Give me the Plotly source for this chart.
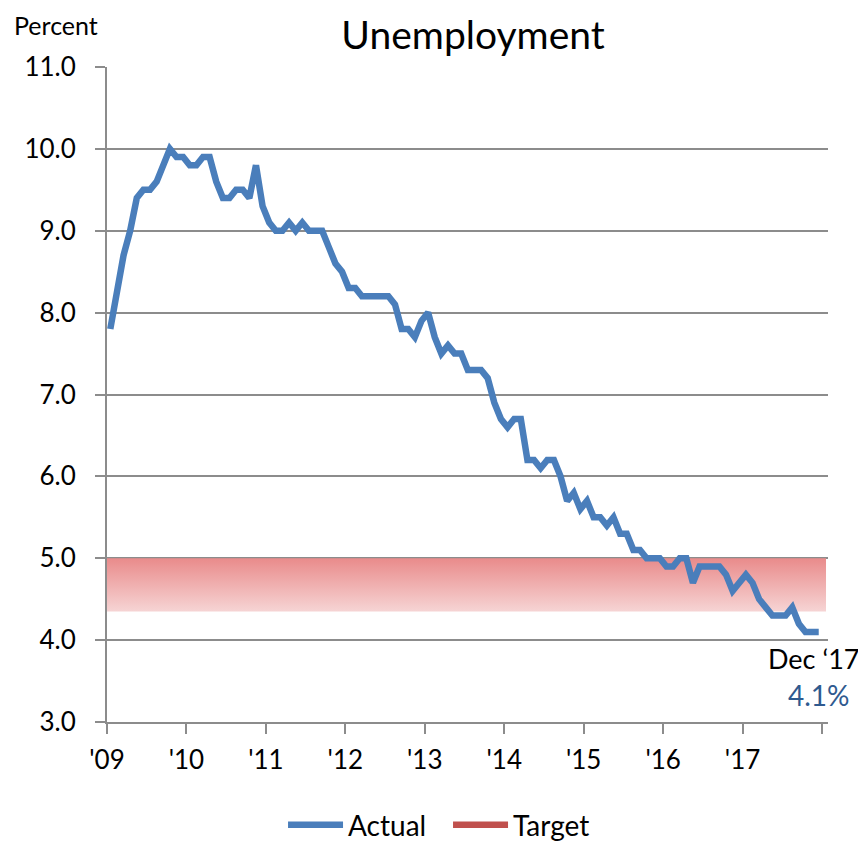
import plotly.graph_objects as go

years = ["'09", "'10", "'11", "'12", "'13", "'14", "'15", "'16", "'17", ""]
actual = [
    7.8, 8.3, 8.7, 9.0, 9.4, 9.5, 9.5, 9.6, 9.8, 10.0, 9.9, 9.9,
    9.8, 9.8, 9.9, 9.9, 9.6, 9.4, 9.4, 9.5, 9.5, 9.4, 9.8, 9.3,
    9.1, 9.0, 9.0, 9.1, 9.0, 9.1, 9.0, 9.0, 9.0, 8.8, 8.6, 8.5,
    8.3, 8.3, 8.2, 8.2, 8.2, 8.2, 8.2, 8.1, 7.8, 7.8, 7.7, 7.9,
    8.0, 7.7, 7.5, 7.6, 7.5, 7.5, 7.3, 7.3, 7.3, 7.2, 6.9, 6.7,
    6.6, 6.7, 6.7, 6.2, 6.2, 6.1, 6.2, 6.2, 6.0, 5.7, 5.8, 5.6,
    5.7, 5.5, 5.5, 5.4, 5.5, 5.3, 5.3, 5.1, 5.1, 5.0, 5.0, 5.0,
    4.9, 4.9, 5.0, 5.0, 4.7, 4.9, 4.9, 4.9, 4.9, 4.8, 4.6, 4.7,
    4.8, 4.7, 4.5, 4.4, 4.3, 4.3, 4.3, 4.4, 4.2, 4.1, 4.1, 4.1,
]
target_low = 4.35
target_high = 5.0
last_label = "Dec ‘17"

months = list(range(len(actual)))
tick_pos = [12 * k - 0.5 for k in range(len(years))]

FONT = "Lato, Carlito, Calibri, sans-serif"
BLUE = "#4A7EBB"
RED = "#C0504D"
GRID = "#8C8C8C"

fig = go.Figure()

# target band with vertical gradient
band_x = [-0.7, 108.1, 108.1, -0.7, -0.7]
band_y = [target_low, target_low, target_high, target_high, target_low]
fig.add_trace(go.Scatter(
    x=band_x, y=band_y, mode="lines", line=dict(width=0),
    fill="toself",
    fillgradient=dict(type="vertical",
                      colorscale=[[0, "#F6D4D4"], [1, "#E98B8B"]]),
    showlegend=False, hoverinfo="skip",
))

fig.add_trace(go.Scatter(
    x=months, y=actual, mode="lines", name="Actual",
    line=dict(color=BLUE, width=6.5),
))
fig.add_trace(go.Scatter(
    x=[None], y=[None], mode="lines", name="Target",
    line=dict(color=RED, width=6.5),
))

fig.update_layout(
    width=858, height=833,
    margin=dict(l=99, r=38, t=59, b=119),
    paper_bgcolor="white", plot_bgcolor="white",
    font=dict(family=FONT, size=26, color="black"),
    title=dict(text="Unemployment", x=0.542, xanchor="center",
               y=0.9676, yanchor="middle",
               font=dict(size=39, family=FONT, color="black")),
    legend=dict(orientation="h", xref="paper", x=0.473, xanchor="center",
                yref="container", y=0.019, yanchor="middle",
                font=dict(size=28), itemwidth=55,
                entrywidth=95, entrywidthmode="pixels",
                traceorder="normal"),
    showlegend=True,
)

fig.update_xaxes(
    range=[-0.5, 108.4], tickmode="array", tickvals=tick_pos, ticktext=years,
    showgrid=False, zeroline=False, showline=True, linecolor=GRID, linewidth=2,
    ticks="outside", ticklen=10, tickcolor=GRID, tickwidth=2,
    tickfont=dict(size=26), ticklabelstandoff=4,
)
fig.update_yaxes(
    range=[3.0, 11.0], tickmode="array", tickvals=[3, 4, 5, 6, 7, 8, 9, 10, 11],
    tickformat=".1f", showgrid=True, gridcolor=GRID, gridwidth=2,
    zeroline=False, showline=True, linecolor=GRID, linewidth=2,
    ticks="outside", ticklen=10, tickcolor=GRID, tickwidth=2,
    tickfont=dict(size=26), ticklabelstandoff=14,
)

fig.add_annotation(
    xref="paper", yref="paper", x=0, y=1, xshift=-95, yshift=59,
    xanchor="left", yanchor="top", text="Percent", showarrow=False,
    font=dict(size=25, family=FONT, color="black"),
)
fig.add_annotation(
    x=months[-1], y=actual[-1], text=last_label, showarrow=False,
    xanchor="right", yanchor="middle", yshift=-27, xshift=43,
    font=dict(size=27, family=FONT, color="black"),
)
fig.add_annotation(
    x=months[-1], y=actual[-1], text=f"{actual[-1]:.1f}%", showarrow=False,
    xanchor="center", yanchor="middle", yshift=-63, xshift=0,
    font=dict(size=28, family=FONT, color="#2F5A8F"),
)

fig.write_html("out.html")
